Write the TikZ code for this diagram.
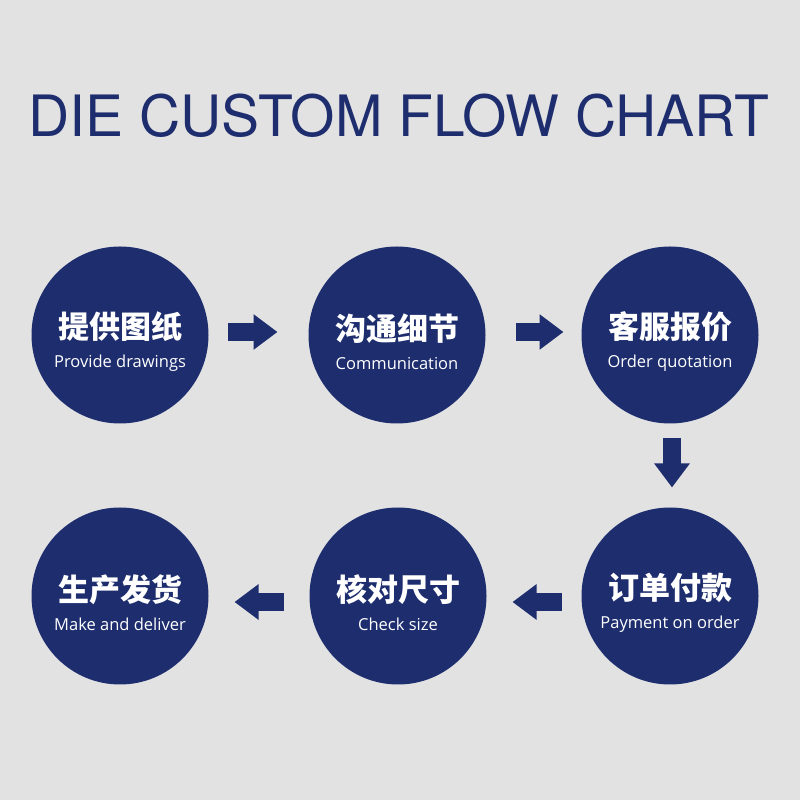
\documentclass[tikz,border=0pt]{standalone}
\usepackage{fontspec}
\setmainfont{Open Sans}
\newfontfamily\titlefont{TeX Gyre Heros}
\newfontfamily\cjk{Noto Sans CJK SC}
\usetikzlibrary{positioning,arrows.meta}
\definecolor{StepClr}{HTML}{1D2D6E}
\definecolor{PaperClr}{HTML}{E2E2E2}

\tikzset{
  stepdisc/.style={circle,fill=StepClr,text=white,minimum size=177pt,
    inner sep=0pt,outer sep=0pt,align=center,
    font=\fontsize{16.5}{20}\selectfont},
  flowarrow/.style={StepClr,line width=18pt,
    -{Triangle[length=24pt,width=34pt]}},
}
\newcommand{\steptext}[2]{{\cjk\bfseries\fontsize{31}{31}\selectfont\rule{0pt}{40pt}#1}\\[9pt]#2}

\begin{document}
\begin{tikzpicture}[x=1pt,y=1pt]

% Paper, fixes the page size.
\fill[PaperClr] (0,0) rectangle (800,800);

% Title.
\node[anchor=base,text=StepClr,font=\titlefont\fontsize{57}{57}\selectfont]
  (title) at (399,663) {DIE CUSTOM FLOW CHART};

% The six steps, top row left to right, bottom row right to left.
\node[stepdisc] (drawings) at (120,465) {\steptext{提供图纸}{Provide drawings}};
\node[stepdisc,right=100pt of drawings] (talk) {\steptext{沟通细节}{Communication}};
\node[stepdisc,right=96pt of talk] (quote) {\steptext{客服报价}{Order quotation}};
\node[stepdisc,below=84pt of quote] (pay) {\steptext{订单付款}{Payment on order}};
\node[stepdisc,left=95pt of pay] (check) {\steptext{核对尺寸}{Check size}};
\node[stepdisc,left=101pt of check] (ship) {\steptext{生产发货}{Make and deliver}};

% Arrows between the steps.
\draw[flowarrow] ([xshift=19pt,yshift=3pt]drawings.east) -- ([xshift=-31pt,yshift=3pt]talk.west);
\draw[flowarrow] ([xshift=30pt,yshift=3pt]talk.east) -- ([xshift=-18pt,yshift=3pt]quote.west);
\draw[flowarrow] ([xshift=2pt,yshift=-15pt]quote.south) -- ([xshift=2pt,yshift=20pt]pay.north);
\draw[flowarrow] ([xshift=-20pt,yshift=-6pt]pay.west) -- ([xshift=26pt,yshift=-6pt]check.east);
\draw[flowarrow] ([xshift=-26pt,yshift=-6pt]check.west) -- ([xshift=26pt,yshift=-6pt]ship.east);

\end{tikzpicture}
\end{document}
